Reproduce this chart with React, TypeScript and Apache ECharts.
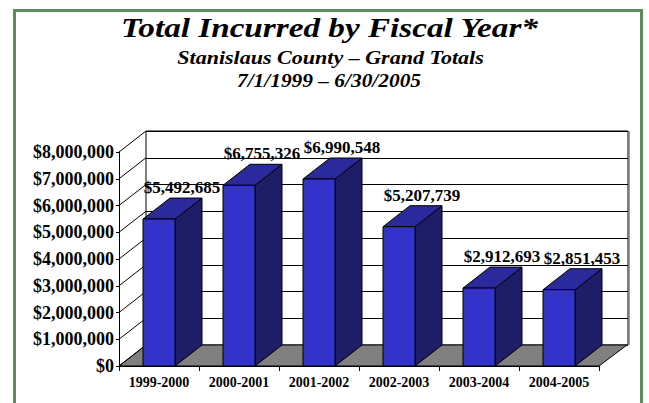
import React, { useEffect, useRef } from "react";
import * as echarts from "echarts";

const categories = ["1999-2000", "2000-2001", "2001-2002", "2002-2003", "2003-2004", "2004-2005"];
const totals = [5492685, 6755326, 6990548, 5207739, 2912693, 2851453];
const yTickValues = [0, 1000000, 2000000, 3000000, 4000000, 5000000, 6000000, 7000000, 8000000];
const titleLines = ["Total Incurred by Fiscal Year*", "Stanislaus County \u2013 Grand Totals", "7/1/1999 \u2013 6/30/2005"];

const DX = 27;
const DY = -21;
const SERIF = '"Liberation Serif", "Times New Roman", serif';

const money = (v: number) => "$" + Math.round(v).toLocaleString("en-US");

export default function App() {
  const ref = useRef<HTMLDivElement>(null);
  useEffect(() => {
    const chart = echarts.init(ref.current!, null, { renderer: "svg" });
    const option: any = {
      animation: false,
      backgroundColor: "#ffffff",
      graphic: [
        {
          type: "rect",
          shape: { x: 14.5, y: 10.5, width: 627, height: 430 },
          style: { fill: "none", stroke: "#5e8b5e", lineWidth: 3 },
          z: 100,
        },
        {
          type: "line",
          shape: { x1: 629.5, y1: 131, x2: 629.5, y2: 345 },
          style: { stroke: "#9a9a9a", lineWidth: 1 },
          z: 1,
        },
        {
          type: "text", x: 329.5, y: 28.5, scaleX: 1.23,
          style: { text: titleLines[0], font: `italic bold 27px ${SERIF}`, fill: "#000", align: "center", verticalAlign: "middle" },
        },
        {
          type: "text", x: 330.5, y: 58, scaleX: 1.16,
          style: { text: titleLines[1], font: `italic bold 19px ${SERIF}`, fill: "#000", align: "center", verticalAlign: "middle" },
        },
        {
          type: "text", x: 329, y: 80.5, scaleX: 1.125,
          style: { text: titleLines[2], font: `italic bold 19px ${SERIF}`, fill: "#000", align: "center", verticalAlign: "middle" },
        },
      ],
      grid: [
        { left: 119, top: 152, width: 480, height: 214, containLabel: false },
        { left: 119 + DX, top: 152 + DY, width: 482, height: 214, show: true, backgroundColor: "#ffffff", borderColor: "#000", borderWidth: 1, z: 0 },
      ],
      xAxis: [
        {
          type: "category", gridIndex: 0, data: categories,
          axisLine: { show: true, lineStyle: { color: "#000", width: 1 } },
          axisTick: { show: true, length: 5, lineStyle: { color: "#000" } },
          axisLabel: { color: "#000", fontFamily: SERIF, fontWeight: "bold", fontSize: 14, margin: 9 },
          z: 5,
        },
        {
          type: "category", gridIndex: 1, data: categories,
          axisLine: { show: false }, axisTick: { show: false }, axisLabel: { show: false },
        },
      ],
      yAxis: [
        {
          type: "value", gridIndex: 0, min: 0, max: 8000000, interval: 1000000,
          axisLine: { show: true, lineStyle: { color: "#000", width: 1 } },
          axisTick: { show: true, length: 3, lineStyle: { color: "#000" } },
          axisLabel: { color: "#000", fontFamily: SERIF, fontWeight: "bold", fontSize: 18, margin: 5, formatter: (v: number) => money(v) },
          splitLine: { show: false },
          z: 5,
        },
        {
          type: "value", gridIndex: 1, min: 0, max: 8000000, interval: 1000000,
          axisLine: { show: false }, axisTick: { show: false }, axisLabel: { show: false },
          splitLine: { show: true, lineStyle: { color: "#000", width: 1 } },
        },
      ],
      series: [
        {
          type: "custom",
          xAxisIndex: 0, yAxisIndex: 0,
          z: 3,
          data: [[0, 0]],
          renderItem: (params: any, api: any) => {
            const cs = params.coordSys;
            const y0 = api.coord([0, 0])[1];
            const xl = cs.x, xr = cs.x + cs.width;
            return {
              type: "polygon",
              shape: { points: [[xl, y0], [xr, y0], [xr + DX + 1, y0 + DY], [xl + DX, y0 + DY]] },
              style: { fill: "#808080", stroke: "#000", lineWidth: 1 },
            };
          },
        },
        {
          type: "custom",
          xAxisIndex: 0, yAxisIndex: 0,
          z: 4,
          data: yTickValues.map((v) => [0, v]),
          renderItem: (params: any, api: any) => {
            const cs = params.coordSys;
            const y = api.coord([0, api.value(1)])[1];
            return {
              type: "line",
              shape: { x1: cs.x, y1: y, x2: cs.x + DX, y2: y + DY },
              style: { stroke: "#000", lineWidth: 1 },
            };
          },
        },
        {
          type: "custom",
          xAxisIndex: 0, yAxisIndex: 0,
          z: 6,
          data: totals.map((v, i) => [i, v]),
          renderItem: (params: any, api: any) => {
            const idx = api.value(0);
            const val = api.value(1);
            const base = api.coord([idx, 0]);
            const top = api.coord([idx, val]);
            const band = api.size([1, 0])[0];
            const w = band * 0.4;
            const l = top[0] - w / 2;
            const r = l + w;
            const ty = top[1];
            const by = base[1];
            const stroke = { stroke: "#000", lineWidth: 1 };
            return {
              type: "group",
              children: [
                {
                  type: "polygon",
                  shape: { points: [[r, ty], [r + DX, ty + DY], [r + DX, by + DY], [r, by]] },
                  style: { fill: "#1e1e66", ...stroke },
                },
                {
                  type: "polygon",
                  shape: { points: [[l, ty], [l + DX, ty + DY], [r + DX, ty + DY], [r, ty]] },
                  style: { fill: "#2a2a9c", ...stroke },
                },
                {
                  type: "rect",
                  shape: { x: l, y: ty, width: w, height: by - ty },
                  style: { fill: "#3333cc", ...stroke },
                },
                {
                  type: "text",
                  x: top[0] + 23,
                  y: ty - 23,
                  style: {
                    text: money(val),
                    font: `bold 17px ${SERIF}`,
                    fill: "#000",
                    align: "center",
                    verticalAlign: "bottom",
                  },
                },
              ],
            };
          },
        },
      ],
    };
    chart.setOption(option);
    return () => chart.dispose();
  }, []);
  return <div ref={ref} style={{ position: "fixed", left: 0, top: 0, width: 649, height: 403, background: "#fff" }} />;
}
